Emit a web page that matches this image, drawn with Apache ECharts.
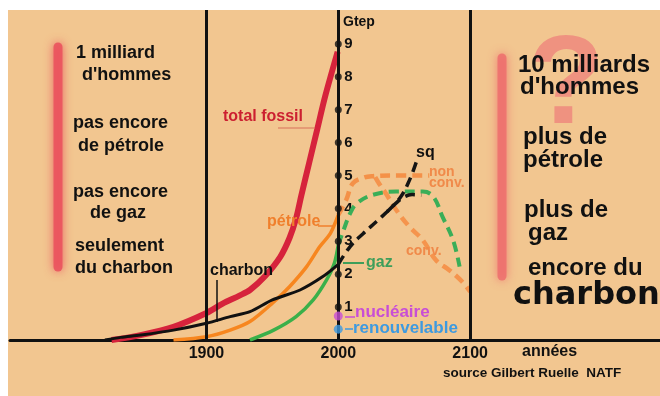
<!DOCTYPE html>
<html><head><meta charset="utf-8">
<script src="https://cdn.jsdelivr.net/npm/echarts@6/dist/echarts.min.js"></script>
<style>html,body{margin:0;padding:0;background:#fff}#c{width:660px;height:396px}</style>
</head><body><div id="c"></div>
<script>
// ---- data ----
const fossilYears = [1828,1850,1875,1900,1912,1925,1933,1944,1956,1963,1968,1972,1978,1984,1990,1999.5];
const fossilValues = [0,0.15,0.40,0.82,1.10,1.35,1.52,1.92,2.53,3.10,3.70,4.40,5.40,6.40,7.40,8.76];
const coalYears = [1823,1835,1850,1875,1900,1918,1933,1950,1971,1988,2000];
const coalValues = [0,0.08,0.15,0.30,0.51,0.71,0.86,1.22,1.52,1.92,2.30];
const oilYears = [1875,1900,1918,1933,1950,1963,1976,1986,1994,2000];
const oilValues = [0,0.10,0.30,0.56,1.12,1.62,2.23,2.84,3.24,3.80];
const gasYears = [1933,1951,1968,1981,1991,1997,2000];
const gasValues = [0,0.30,0.71,1.22,1.82,2.33,2.90];
const coalFutureYears = [2000,2009,2019,2029,2037,2044,2050,2056,2063];
const coalFutureValues = [2.30,2.84,3.24,3.60,3.90,4.17,4.35,4.42,4.40];
const sqYears = [2037,2047,2054,2059.5];
const sqValues = [3.90,4.33,4.86,5.45];
const oilNonConvYears = [2000,2006,2011,2019,2026,2040,2069];
const oilNonConvValues = [3.80,4.26,4.76,4.93,4.98,5.00,5.00];
const oilConvYears = [2028,2031,2036,2044,2054,2064,2074,2084,2094,2100];
const oilConvValues = [4.95,4.75,4.46,3.95,3.44,3.04,2.43,2.13,1.77,1.47];
const gasFutureYears = [2000,2004,2009,2014,2026,2044,2064,2072,2079,2087,2092];
const gasFutureValues = [2.90,3.34,3.85,4.15,4.41,4.51,4.51,4.36,3.75,3.04,2.23];
const nuclearPoint = [2000, 0.73];
const renewPoint = [2000, 0.33];
const tickValues = [1,2,3,4,5,6,7,8,9];
const yearLines = [1900, 2000, 2100];
const yearLabels = [1900, 2000, 2100];

const zip = (xs, ys) => xs.map((x, i) => [x, ys[i]]);
const FF = '"Liberation Sans", Arial, sans-serif';

function T(text, x, y, size, color, align, family) {
  return { type: 'text', x: x, y: y, z: 60,
    style: { text: text, fill: color, font: 'bold ' + size + 'px ' + (family || FF),
      textAlign: align || 'left', textVerticalAlign: 'middle', textBaseline: 'middle' } };
}
function L(x1, y1, x2, y2, color, w) {
  return { type: 'line', z: 55, shape: { x1: x1, y1: y1, x2: x2, y2: y2 },
    style: { stroke: color, lineWidth: w || 1.5 } };
}

const chart = echarts.init(document.getElementById('c'), null, { renderer: 'canvas' });

function lineSeries(name, xs, ys, color, width, dashed, z) {
  return { name: name, type: 'line', data: zip(xs, ys), smooth: dashed ? 0.4 : 0.3, symbol: 'none', z: z || 3,
    lineStyle: { color: color, width: width, type: dashed ? [10, 6] : 'solid', cap: 'butt' } };
}

const graphics = [
  { type: 'rect', z: -10, shape: { x: 8, y: 10, width: 652, height: 386 }, style: { fill: '#f2c690' } },
  { type: 'line', z: -5, shape: { x1: 58, y1: 47, x2: 58, y2: 267 },
    style: { stroke: '#ea4f5c', lineWidth: 9, lineCap: 'round', shadowBlur: 10, shadowColor: '#ea4f5c', opacity: 0.85 } },
  { type: 'line', z: -5, shape: { x1: 502, y1: 58, x2: 502, y2: 276 },
    style: { stroke: '#ee6a6c', lineWidth: 9, lineCap: 'round', shadowBlur: 10, shadowColor: '#ee6a6c', opacity: 0.8 } },
  { type: 'text', z: -4, x: 566, y: 88, style: { text: '?', fill: '#ef9280', font: 'bold 126px ' + FF,
      textAlign: 'center', textVerticalAlign: 'middle', textBaseline: 'middle' } },
  T('1 milliard', 76, 53, 18, '#111'),
  T("d'hommes", 82, 75, 18, '#111'),
  T('pas encore', 73, 123, 18, '#111'),
  T('de pétrole', 78, 146, 18, '#111'),
  T('pas encore', 73, 192, 18, '#111'),
  T('de gaz', 90, 213, 18, '#111'),
  T('seulement', 75, 246, 18, '#111'),
  T('du charbon', 75, 268, 18, '#111'),
  T('10 milliards', 518, 65, 24, '#111'),
  T("d'hommes", 520, 87, 24, '#111'),
  T('plus de', 523, 137, 24, '#111'),
  T('pétrole', 523, 160, 24, '#111'),
  T('plus de', 524, 210, 24, '#111'),
  T('gaz', 528, 233, 24, '#111'),
  T('encore du', 528, 268, 24, '#111'),
  T('charbon', 513, 296, 32, '#111', 'left', '"DejaVu Sans", sans-serif'),
  T('Gtep', 343, 22, 14, '#111'),
  T('total fossil', 223, 117, 16, '#cc1f30'),
  L(278, 128, 315, 128, '#d8705a', 1),
  T('pétrole', 267, 222, 16, '#f07f2c'),
  L(318, 226, 333, 226, '#f07f2c', 1.5),
  T('charbon', 210, 271, 16, '#111'),
  L(217, 280, 217, 322, '#111', 1.5),
  T('gaz', 366, 263, 16, '#3e9e5a'),
  L(343, 263, 364, 263, '#3e9e5a', 2),
  T('sq', 416, 153, 16, '#111'),
  T('non', 429, 172, 14, '#f08a4a'),
  T('conv.', 429, 183, 14, '#f08a4a'),
  T('conv.', 406, 251, 14, '#f08a4a'),
  T('nucléaire', 355, 312, 17, '#c84ed6'),
  L(345, 317, 355, 317, '#c84ed6', 1.5),
  T('renouvelable', 353, 328, 17, '#3d9ae0'),
  L(345, 329, 353, 329, '#3d9ae0', 1.5),
  T('années', 522, 352, 16, '#111'),
  T('source Gilbert Ruelle  NATF', 443, 373, 13.5, '#111')
];

chart.setOption({
  backgroundColor: '#ffffff',
  animation: false,
  grid: { left: 10, right: 0, top: 10, bottom: 56 },
  xAxis: { type: 'value', min: 1751, max: 2244,
    splitLine: { show: false }, axisTick: { show: false },
    axisLine: { show: true, lineStyle: { color: '#111', width: 3 } },
    axisLabel: { customValues: yearLabels, formatter: v => String(v), color: '#111', fontWeight: 'bold', fontSize: 16, fontFamily: FF, margin: 6 } },
  yAxis: { type: 'value', min: 0, max: 10.03, interval: 1, position: 'left', offset: -328.3,
    splitLine: { show: false }, axisTick: { show: false }, axisLine: { show: false },
    axisLabel: { inside: true, margin: 6, color: '#111', fontWeight: 'bold', fontSize: 15, fontFamily: FF,
      formatter: v => (v >= 1 && v <= 9) ? String(v) : '' } },
  graphic: graphics,
  series: [
    lineSeries('total fossil', fossilYears, fossilValues, '#d6233c', 6, false, 3),
    lineSeries('pétrole', oilYears, oilValues, '#f7861f', 3.5, false, 4),
    lineSeries('charbon', coalYears, coalValues, '#111111', 3, false, 5),
    lineSeries('gaz', gasYears, gasValues, '#3bb04a', 3.5, false, 4),
    lineSeries('pétrole non conv.', oilNonConvYears, oilNonConvValues, 'rgba(245,135,60,0.85)', 4.5, true, 3),
    lineSeries('pétrole conv.', oilConvYears, oilConvValues, 'rgba(245,135,60,0.8)', 4.5, true, 3),
    lineSeries('gaz futur', gasFutureYears, gasFutureValues, '#3aae58', 4, true, 4),
    lineSeries('charbon futur', coalFutureYears, coalFutureValues, '#151515', 3.5, true, 5),
    lineSeries('sq', sqYears, sqValues, '#151515', 3.5, true, 5),
    { name: 'axes', type: 'scatter', z: 8, data: tickValues.map(v => [2000, v]), symbolSize: 7,
      itemStyle: { color: '#111' },
      markLine: { silent: true, symbol: 'none', label: { show: false },
        lineStyle: { color: '#111', width: 3, type: 'solid' },
        data: yearLines.map(y => ({ xAxis: y })) } },
    { name: 'nucléaire', type: 'scatter', z: 9, data: [nuclearPoint], symbolSize: 9, itemStyle: { color: '#c84ed6' } },
    { name: 'renouvelable', type: 'scatter', z: 9, data: [renewPoint], symbolSize: 9, itemStyle: { color: '#3d9ae0' } }
  ]
});
</script></body></html>
